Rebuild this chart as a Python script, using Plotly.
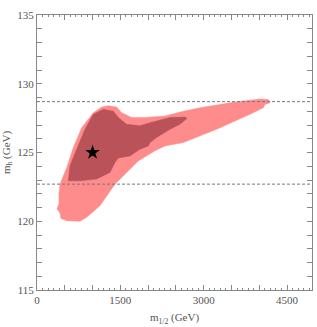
import plotly.graph_objects as go

# Outer (lighter) region boundary: m_1/2 (GeV), m_h (GeV)
outer_m12 = [414, 474, 534, 654, 804, 1014, 1164, 1284, 1434, 1524, 1704, 1944, 2304,
             2634, 2934, 3534, 4014, 4164, 4194, 4104, 4074, 3834, 3234, 2634, 2304,
             2124, 1823, 1525, 1404, 1283, 1134, 895, 774, 535, 430, 414, 360, 396, 396]
outer_mh = [122.7, 123.3, 123.9, 125.36, 126.8, 127.9, 128.3, 128.4, 128.3, 127.9, 127.55,
            127.55, 127.65, 128.0, 128.25, 128.65, 128.9, 128.85, 128.62, 128.5, 128.26,
            127.78, 126.69, 125.72, 125.48, 125.12, 124.39, 123.19, 122.7, 122.0, 121.13,
            120.29, 120.0, 120.04, 120.2, 120.6, 120.9, 121.3, 122.0]

# Inner (darker) region boundary
inner_m12 = [564, 594, 714, 864, 1014, 1194, 1374, 1464, 1614, 1854, 2034, 2394, 2664,
             2700, 2574, 2394, 2154, 2034, 2004, 1854, 1674, 1464, 1404, 1314, 1074, 774]
inner_mh = [122.94, 124.03, 125.24, 126.69, 127.78, 128.14, 128.0, 127.54, 127.05, 126.95,
            127.17, 127.54, 127.58, 127.49, 127.05, 126.69, 126.09, 125.72, 125.48, 125.24,
            124.75, 124.6, 124.28, 123.55, 123.07, 122.94]

# Best-fit point
star_m12 = [1000]
star_mh = [125.0]

# Horizontal dashed reference lines
ref_mh = [128.7, 122.7]

x_range = [0, 4950]
y_range = [115, 135]
x_tickvals = [0, 500, 1000, 1500, 2000, 2500, 3000, 3500, 4000, 4500]
x_ticktext = ["0", "", "", "1500", "", "", "3000", "", "", "4500"]
y_tickvals = list(range(115, 136))
y_ticktext = [str(v) if v % 5 == 0 else "" for v in y_tickvals]

FONT = "Liberation Serif"
GREY = "#555555"

fig = go.Figure()
fig.add_trace(go.Scatter(x=outer_m12 + [outer_m12[0]], y=outer_mh + [outer_mh[0]],
                         fill="toself", fillcolor="#FF8C8C", mode="lines",
                         line=dict(width=0.5, color="#FF8C8C"), hoverinfo="skip"))
fig.add_trace(go.Scatter(x=inner_m12 + [inner_m12[0]], y=inner_mh + [inner_mh[0]],
                         fill="toself", fillcolor="#BA5259", mode="lines",
                         line=dict(width=0.5, color="#BA5259"), hoverinfo="skip"))
for v in ref_mh:
    fig.add_trace(go.Scatter(x=x_range, y=[v, v], mode="lines",
                             line=dict(color="#777777", width=1, dash="3px,2px"),
                             hoverinfo="skip"))
fig.add_trace(go.Scatter(x=star_m12, y=star_mh, mode="markers",
                         marker=dict(symbol="star", size=11, color="black",
                                     line=dict(width=0))))

axis_common = dict(showgrid=False, zeroline=False, showline=True, linecolor="#888888",
                   linewidth=1, mirror="ticks", ticks="inside", ticklen=5,
                   tickcolor="#888888", tickwidth=1, automargin=False,
                   tickfont=dict(family=FONT, size=11, color=GREY))

fig.update_layout(
    width=317, height=327,
    margin=dict(l=37, r=5, t=15, b=37),
    paper_bgcolor="white", plot_bgcolor="white",
    showlegend=False,
    xaxis=dict(range=x_range, tickmode="array", tickvals=x_tickvals, ticktext=x_ticktext,
               minor=dict(ticks="inside", ticklen=2, dtick=100, tickcolor="#888888"),
               title=dict(text="m<sub>1/2</sub> (GeV)", standoff=8,
                          font=dict(family=FONT, size=11, color=GREY)),
               **axis_common),
    yaxis=dict(range=y_range, tickmode="array", tickvals=y_tickvals, ticktext=y_ticktext,
               title=dict(text="m<sub>h</sub> (GeV)", standoff=4,
                          font=dict(family=FONT, size=11, color=GREY)),
               **axis_common),
)

fig.write_html("out.html", config={"displayModeBar": False},
               post_script="document.body.style.margin='0';")
